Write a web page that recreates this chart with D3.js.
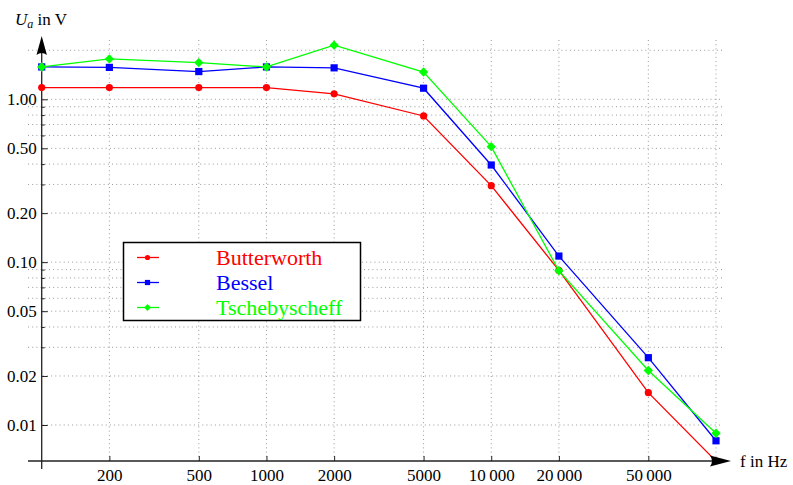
<!DOCTYPE html>
<html lang="en">
<head>
<meta charset="UTF-8">
<script src="https://d3js.org/d3.v7.min.js"></script>
<title>Filter frequency response</title>
<style>
  body { margin: 0; background: #fff; }
  svg text { font-family: "Liberation Serif", "Times New Roman", Times, "DejaVu Serif", serif !important; }
  .grid line { stroke: #999; stroke-width: 1; stroke-dasharray: 1,3.2; }
</style>
</head>
<body>
<div id="chart"></div>
<script>
// data
const freq = [100, 200, 500, 1000, 2000, 5000, 10000, 20000, 50000, 100000];
const butterworth = [1.18, 1.18, 1.18, 1.18, 1.08, 0.79, 0.295, 0.089, 0.0158, 0.006];
const bessel = [1.58, 1.57, 1.48, 1.58, 1.56, 1.17, 0.395, 0.109, 0.0259, 0.0080];
const tscheby = [1.58, 1.77, 1.68, 1.58, 2.15, 1.47, 0.512, 0.0886, 0.0216, 0.0089];

const xTicks = [200, 500, 1000, 2000, 5000, 10000, 20000, 50000];
const xTickLabels = ["200", "500", "1000", "2000", "5000", "10\u2009000", "20\u2009000", "50\u2009000"];
const yTicks = [0.01, 0.02, 0.05, 0.1, 0.2, 0.5, 1];
const yMinor = [0.03, 0.04, 0.06, 0.07, 0.08, 0.09, 0.3, 0.4, 0.6, 0.7, 0.8, 0.9, 2];

const series = [
  { name: "Butterworth", values: butterworth, color: "#ff0000", shape: "circle" },
  { name: "Bessel", values: bessel, color: "#0000ff", shape: "square" },
  { name: "Tschebyscheff", values: tscheby, color: "#00ff00", shape: "diamond" }
];

const width = 793, height = 485;
const x0 = 41.7, xAxisY = 461;

const x = d3.scaleLog().domain([100, 100000]).range([x0, 716]);
const y = d3.scaleLog().domain([0.01, 1]).range([425, 99.3]);

const svg = d3.select('#chart').append('svg')
  .attr('width', width).attr('height', height);

svg.append('defs').append('clipPath').attr('id', 'plotclip')
  .append('rect').attr('x', 20).attr('y', 30).attr('width', 720).attr('height', xAxisY - 30);

// grid
const grid = svg.append('g').attr('class', 'grid');
grid.selectAll('line.h').data(yTicks.concat(yMinor)).enter().append('line')
  .attr('class', 'h')
  .attr('x1', d => yTicks.includes(d) ? x0 + 1 : 28)
  .attr('x2', 722)
  .attr('y1', d => y(d)).attr('y2', d => y(d));
grid.selectAll('line.v').data(xTicks.concat([100000])).enter().append('line')
  .attr('class', 'v')
  .attr('x1', d => x(d)).attr('x2', d => x(d))
  .attr('y1', 40).attr('y2', xAxisY);

// y axis (ticks point into the plot)
const yAxis = svg.append('g').attr('transform', `translate(${x0},0)`)
  .call(d3.axisLeft(y).tickValues(yTicks).tickSize(-6).tickPadding(5)
    .tickFormat(d3.format('.2f')));
const yAxisMinor = svg.append('g').attr('transform', `translate(${x0},0)`)
  .call(d3.axisLeft(y).tickValues(yMinor).tickSize(-3).tickFormat(''));
[yAxis, yAxisMinor].forEach(g => {
  g.select('.domain').remove();
  g.attr('font-family', null);
  g.selectAll('.tick line').attr('stroke', '#222');
});
yAxis.selectAll('text').attr('font-size', 17).attr('fill', '#000');

// x axis
const xAxis = svg.append('g').attr('transform', `translate(0,${xAxisY})`)
  .call(d3.axisBottom(x).tickValues(xTicks).tickSize(-5).tickPadding(8)
    .tickFormat((d, i) => xTickLabels[i]));
xAxis.select('.domain').remove();
xAxis.attr('font-family', null);
xAxis.selectAll('.tick line').attr('stroke', '#222');
xAxis.selectAll('text').attr('font-size', 17).attr('fill', '#000');

// axis lines with arrows
svg.append('line').attr('x1', x0).attr('x2', x0).attr('y1', 469).attr('y2', 50)
  .attr('stroke', '#222').attr('stroke-width', 1.3);
svg.append('line').attr('x1', 28).attr('x2', 716).attr('y1', xAxisY).attr('y2', xAxisY)
  .attr('stroke', '#222').attr('stroke-width', 1.3);

function marker(g, shape, color, s) {
  if (shape === 'circle') {
    g.append('circle').attr('r', s).attr('fill', color);
  } else if (shape === 'square') {
    g.append('rect').attr('x', -s).attr('y', -s).attr('width', 2 * s).attr('height', 2 * s).attr('fill', color);
  } else {
    const d = s * 1.3;
    g.append('path').attr('d', `M0,${-d}L${d},0L0,${d}L${-d},0Z`).attr('fill', color);
  }
}

// lines + points
const plot = svg.append('g').attr('clip-path', 'url(#plotclip)');
const line = d3.line().x((d, i) => x(freq[i])).y(d => y(d));
series.forEach(s => {
  plot.append('path').datum(s.values)
    .attr('d', line).attr('fill', 'none')
    .attr('stroke', s.color).attr('stroke-width', 1.3);
  s.values.forEach((v, i) => {
    const g = plot.append('g').attr('transform', `translate(${x(freq[i])},${y(v)})`);
    marker(g, s.shape, s.color, 3.6);
  });
});

// arrowheads
svg.append('path')
  .attr('d', `M${x0},36 L${x0 + 5.2},55 Q${x0},51 ${x0 - 5.2},55 Z`)
  .attr('fill', '#000');
svg.append('path')
  .attr('d', `M731,${xAxisY} L710,${xAxisY - 5.5} Q714,${xAxisY} 710,${xAxisY + 5.5} Z`)
  .attr('fill', '#000');

// axis titles
const yt = svg.append('text').attr('x', 15).attr('y', 25).attr('font-size', 17);
yt.append('tspan').attr('font-style', 'italic').text('U');
yt.append('tspan').attr('font-style', 'italic').attr('font-size', 12).attr('dy', 3).text('a');
yt.append('tspan').attr('dy', -3).text(' in V');
svg.append('text').attr('x', 740).attr('y', 467).attr('font-size', 17).text('f in Hz');

// legend
const legend = svg.append('g');
legend.append('rect').attr('x', 123.5).attr('y', 242.5).attr('width', 237).attr('height', 78)
  .attr('fill', '#fff').attr('stroke', '#000').attr('stroke-width', 1.5);
series.forEach((s, i) => {
  const ry = 257.5 + i * 25;
  legend.append('line').attr('x1', 137).attr('x2', 159).attr('y1', ry).attr('y2', ry)
    .attr('stroke', s.color).attr('stroke-width', 1.3);
  const g = legend.append('g').attr('transform', `translate(147.5,${ry})`);
  marker(g, s.shape, s.color, 2.6);
  legend.append('text').attr('x', 216).attr('y', ry + 7.5).attr('font-size', 22)
    .attr('fill', s.color).text(s.name);
});
</script>
</body>
</html>
